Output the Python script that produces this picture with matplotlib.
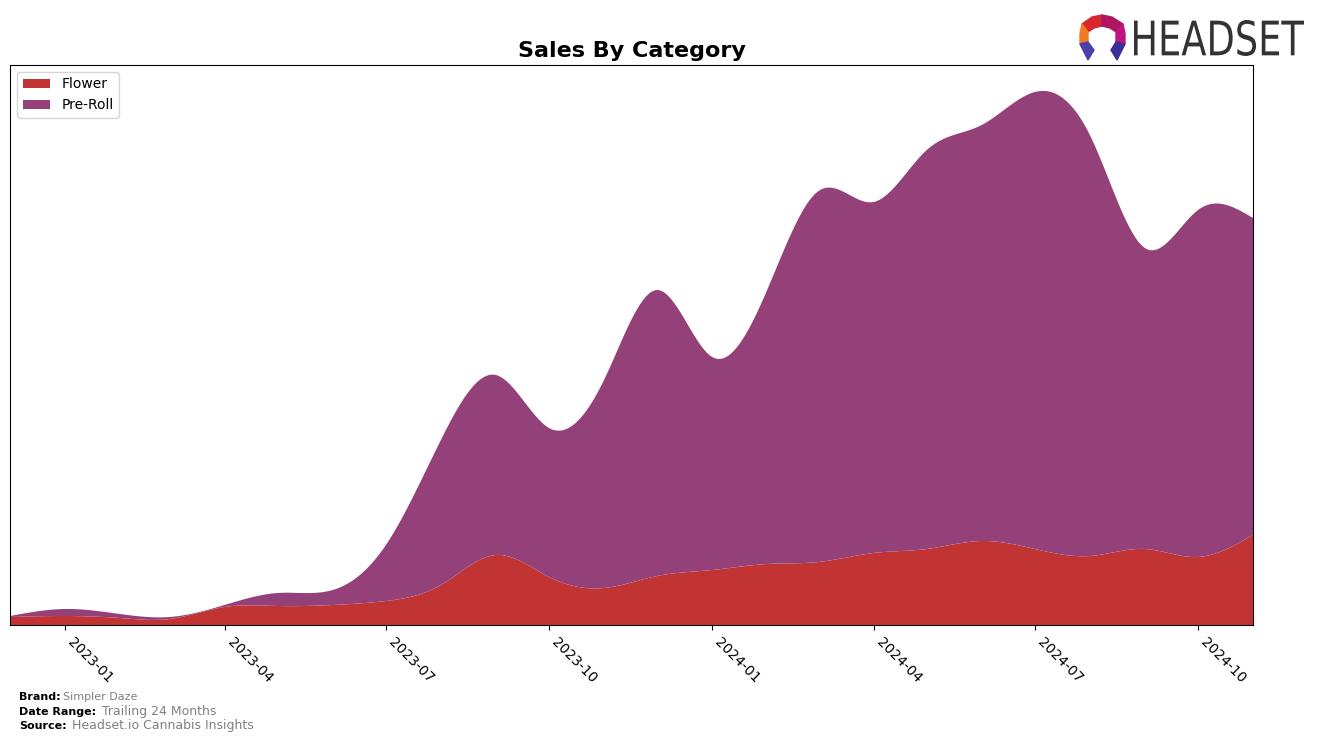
import numpy as np
import pandas as pd
import matplotlib
matplotlib.use("Agg")
import matplotlib.pyplot as plt
import matplotlib.dates as mdates
from matplotlib.patches import Polygon, PathPatch
from matplotlib.textpath import TextPath
from matplotlib.transforms import Affine2D

months = pd.date_range("2022-12-01", "2024-11-01", freq="MS")
flower = [8, 9, 7, 6, 18, 19, 20, 24, 40, 70, 48, 37, 49, 55, 61, 63, 72, 76, 84, 76, 69, 76, 68, 90]
total = [9, 16, 11, 8, 20, 32, 35, 80, 185, 250, 197, 245, 335, 268, 335, 434, 423, 475, 500, 533, 490, 377, 415, 407]
preroll = [t - f for t, f in zip(total, flower)]
categories = ["Flower", "Pre-Roll"]
colors = ["#C13433", "#954179"]


def spline(x, y, xs):
    # natural cubic spline, just for smooth drawing
    x = np.asarray(x, float)
    y = np.asarray(y, float)
    n = len(x)
    h = np.diff(x)
    A = np.zeros((n, n))
    b = np.zeros(n)
    A[0, 0] = A[-1, -1] = 1
    for i in range(1, n - 1):
        A[i, i - 1] = h[i - 1]
        A[i, i] = 2 * (h[i - 1] + h[i])
        A[i, i + 1] = h[i]
        b[i] = 3 * ((y[i + 1] - y[i]) / h[i] - (y[i] - y[i - 1]) / h[i - 1])
    c = np.linalg.solve(A, b)
    idx = np.clip(np.searchsorted(x, xs) - 1, 0, n - 2)
    dx = xs - x[idx]
    bb = (y[idx + 1] - y[idx]) / h[idx] - h[idx] * (2 * c[idx] + c[idx + 1]) / 3
    d = (c[idx + 1] - c[idx]) / (3 * h[idx])
    return y[idx] + bb * dx + c[idx] * dx ** 2 + d * dx ** 3


xn = mdates.date2num(months)
xs = np.linspace(xn[0], xn[-1], 800)
fs = np.clip(spline(xn, flower, xs), 0, None)
ps = np.clip(spline(xn, preroll, xs), 0, None)

fig = plt.figure(figsize=(13.17, 7.42), dpi=100)
ax = fig.add_axes([10 / 1317, 1 - 625 / 742, 1243 / 1317, 560 / 742])
ax.stackplot(xs, fs, ps, colors=colors, labels=categories)
ax.set_xlim(xn[0], xn[-1])
ax.set_ylim(0, 560)
ax.set_yticks([])
ax.xaxis.set_major_locator(mdates.MonthLocator(bymonth=[1, 4, 7, 10]))
ax.xaxis.set_major_formatter(mdates.DateFormatter("%Y-%m"))
plt.setp(ax.get_xticklabels(), rotation=-45, ha="left", fontsize=10)
ax.set_title("Sales By Category", fontsize=16, fontweight="bold", pad=6)
ax.legend(loc="upper left", fontsize=10)

# footer
fig.text(19 / 1317, 1 - 697 / 742, "Brand:", fontsize=8, fontweight="bold", va="center")
fig.text(63 / 1317, 1 - 697 / 742, "Simpler Daze", fontsize=8, color="gray", va="center")
fig.text(19 / 1317, 1 - 712 / 742, "Date Range:", fontsize=8, fontweight="bold", va="center")
fig.text(102 / 1317, 1 - 712 / 742, "Trailing 24 Months", fontsize=9, color="gray", va="center")
fig.text(19 / 1317, 1 - 726 / 742, "Source:", fontsize=8, fontweight="bold", va="center")
fig.text(72 / 1317, 1 - 726 / 742, "Headset.io Cannabis Insights", fontsize=9, color="gray", va="center")

# logo
la = fig.add_axes([1078 / 1317, 1 - 62 / 742, 50 / 1317, 48 / 742])
la.set_xlim(0, 50)
la.set_ylim(0, 48)
la.axis("off")
la.add_patch(Polygon([(4, 38), (14, 45), (24, 47), (24, 36), (16, 34), (10, 30)], color="#D8262E"))
la.add_patch(Polygon([(24, 47), (34, 45), (45, 38), (38, 30), (32, 34), (24, 36)], color="#B0165E"))
la.add_patch(Polygon([(4, 38), (10, 30), (10, 20), (2, 18), (2, 28)], color="#F07A23"))
la.add_patch(Polygon([(45, 38), (38, 30), (38, 20), (47, 18), (47, 28)], color="#C0157F"))
la.add_patch(Polygon([(2, 18), (10, 20), (16, 12), (10, 2)], color="#4B3FA8"))
la.add_patch(Polygon([(47, 18), (38, 20), (33, 12), (39, 2)], color="#3B2E96"))

# logo word, squeezed into its box (pixel coordinates)
lt = fig.add_axes([0, 0, 1, 1])
lt.set_xlim(0, 1317)
lt.set_ylim(742, 0)
lt.axis("off")
tp = TextPath((0, 0), "HEADSET", size=10)
bb = tp.get_extents()
tr = Affine2D().translate(-bb.x0, -bb.y0).scale(170 / bb.width, -36 / bb.height).translate(1134, 56)
lt.add_patch(PathPatch(tr.transform_path(tp), color="#333333", lw=0))

fig.savefig("out.png", dpi=100)
